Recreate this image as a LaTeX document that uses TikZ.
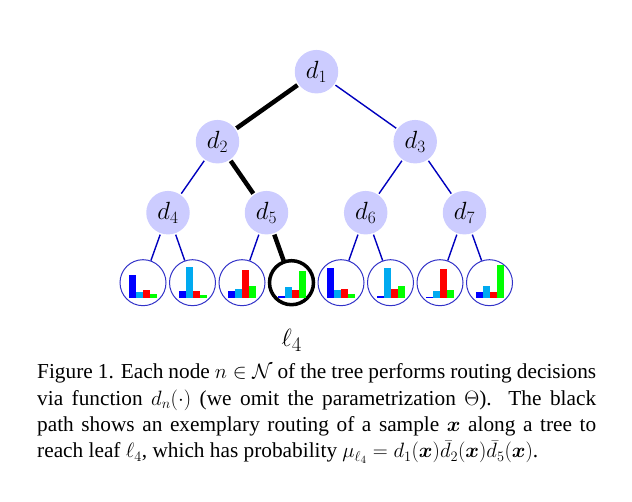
\documentclass[tikz,border=0pt]{standalone}
\usepackage{amsmath,amssymb,bm}
\usepackage{fontspec}
\setmainfont{Liberation Serif}
\usetikzlibrary{calc}
\definecolor{nodefill}{RGB}{204,204,255}
\definecolor{edgeblue}{RGB}{0,0,190}
\definecolor{leafline}{RGB}{50,50,200}
\definecolor{barblue}{RGB}{0,0,255}
\definecolor{barcyan}{RGB}{0,170,240}
\definecolor{barred}{RGB}{255,0,0}
\definecolor{bargreen}{RGB}{0,255,0}
\newcommand\leafbars[5]{%
  \fill[barblue]  ($(#1)+(-14,15)$) rectangle ++(7,-#2);
  \fill[barcyan]  ($(#1)+(-7,15)$)  rectangle ++(7,-#3);
  \fill[barred]   ($(#1)+(0,15)$)   rectangle ++(7,-#4);
  \fill[bargreen] ($(#1)+(7,15)$)   rectangle ++(7,-#5);
}
\tikzset{
  dnode/.style={circle, fill=nodefill, minimum size=43.5pt, inner sep=0pt, outer sep=1.5pt, font=\fontsize{26}{30}\selectfont},
  leafnode/.style={circle, draw=leafline, line width=1pt, minimum size=46pt, inner sep=0pt, outer sep=0.5pt},
  pathleaf/.style={circle, draw=black, line width=3.5pt, minimum size=44pt, inner sep=0pt, outer sep=1.5pt},
  edge/.style={draw=edgeblue, line width=1.4pt},
  thickedge/.style={draw=black, line width=4.5pt},
}
\begin{document}
\begin{tikzpicture}[x=1pt,y=-1pt]
\useasboundingbox (0,0) rectangle (632,502);
% internal nodes
\node[dnode] (d1) at (316.5,71.7) {$d_1$};
\node[dnode] (d2) at (217.5,141.7) {$d_2$};
\node[dnode] (d3) at (415.2,141.7) {$d_3$};
\node[dnode] (d4) at (168,212.7) {$d_4$};
\node[dnode] (d5) at (266.5,212.7) {$d_5$};
\node[dnode] (d6) at (365.7,212.7) {$d_6$};
\node[dnode] (d7) at (464.5,212.7) {$d_7$};
% leaves
\node[leafnode] (l1) at (143,282.7) {};
\node[leafnode] (l2) at (192.5,282.7) {};
\node[leafnode] (l3) at (242,282.7) {};
\node[pathleaf] (l4) at (291.5,282.7) {};
\node[leafnode] (l5) at (341,282.7) {};
\node[leafnode] (l6) at (390.5,282.7) {};
\node[leafnode] (l7) at (440,282.7) {};
\node[leafnode] (l8) at (489.5,282.7) {};
% edges
\draw[thickedge] (d1) -- (d2);
\draw[edge] (d1) -- (d3);
\draw[edge] (d2) -- (d4);
\draw[thickedge] (d2) -- (d5);
\draw[edge] (d3) -- (d6);
\draw[edge] (d3) -- (d7);
\draw[edge] (d4) -- (l1);
\draw[edge] (d4) -- (l2);
\draw[edge] (d5) -- (l3);
\draw[thickedge] (d5) -- (l4);
\draw[edge] (d6) -- (l5);
\draw[edge] (d6) -- (l6);
\draw[edge] (d7) -- (l7);
\draw[edge] (d7) -- (l8);
% bars
\leafbars{l1}{22.7}{5.7}{7.7}{3.7}
\leafbars{l2}{6.7}{31}{6.7}{2.7}
\leafbars{l3}{6.7}{8.7}{27.7}{11.7}
\leafbars{l4}{1.7}{10.7}{7.7}{26.7}
\leafbars{l5}{29.7}{7.7}{8.7}{3.7}
\leafbars{l6}{1.7}{29.7}{8.7}{11.7}
\leafbars{l7}{1}{6.7}{28.7}{7.7}
\leafbars{l8}{5.7}{11.7}{5.7}{32.7}
% leaf label
\node[font=\fontsize{29}{32}\selectfont] (lab) at (291.7,340) {$\ell_4$};
% caption
\node[anchor=north west, inner sep=0pt, text width=559pt, align=justify,
      font=\fontsize{21.3}{26.4}\selectfont] (cap) at (37,363.5)
{\hyphenpenalty=10000 Figure 1. Each node $n \in \mathcal{N}$ of the tree performs routing decisions\linebreak
via function $d_n(\cdot)$ (we omit the parametrization $\Theta$). The black\linebreak
path shows an exemplary routing of a sample $\bm{x}$ along a tree to\linebreak
reach leaf $\ell_4$, which has probability $\mu_{\ell_4} = d_1(\bm{x})\bar{d}_2(\bm{x})\bar{d}_5(\bm{x})$.};
\end{tikzpicture}
\end{document}
